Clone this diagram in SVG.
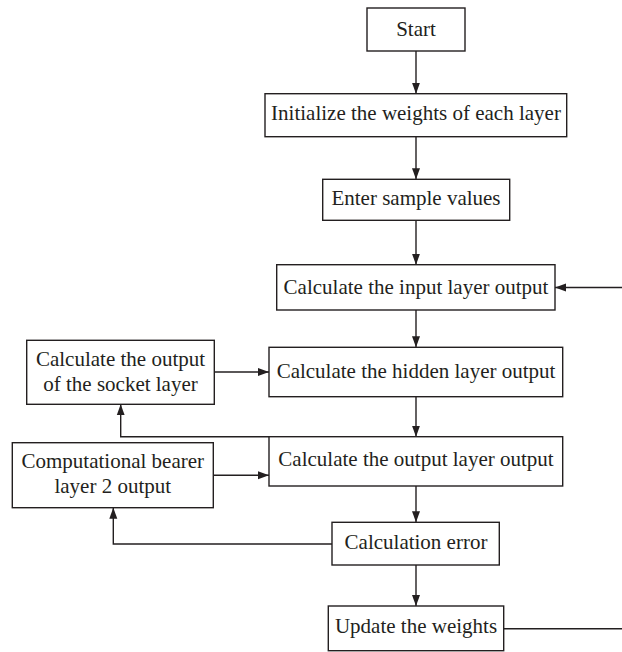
<svg xmlns="http://www.w3.org/2000/svg" width="622" height="652" viewBox="0 0 622 652">
<style>
.box{fill:#fff;stroke:#231f20;stroke-width:1.4}
.t{font-family:"Liberation Serif","Times New Roman",serif;font-size:21px;fill:#231f20;text-anchor:middle}
.c{fill:none;stroke:#231f20;stroke-width:1.4}
</style>
<defs>
<marker id="ah" markerUnits="userSpaceOnUse" markerWidth="12" markerHeight="10" refX="11" refY="5" orient="auto">
<path d="M0,1 L11,5 L0,9 Z" fill="#231f20"/>
</marker>
</defs>
<rect width="622" height="652" fill="#fff"/>
<g id="connectors">
<line class="c" x1="416" y1="51" x2="416" y2="93.7" marker-end="url(#ah)"/>
<line class="c" x1="416" y1="136.7" x2="416" y2="179.3" marker-end="url(#ah)"/>
<line class="c" x1="416" y1="220.3" x2="416" y2="264.7" marker-end="url(#ah)"/>
<line class="c" x1="416" y1="310" x2="416" y2="347.3" marker-end="url(#ah)"/>
<line class="c" x1="416" y1="396.7" x2="416" y2="436.7" marker-end="url(#ah)"/>
<line class="c" x1="416" y1="486" x2="416" y2="522.3" marker-end="url(#ah)"/>
<line class="c" x1="416" y1="565" x2="416" y2="606" marker-end="url(#ah)"/>
<line class="c" x1="503.7" y1="628.7" x2="622" y2="628.7"/>
<line class="c" x1="622" y1="287.5" x2="555" y2="287.5" marker-end="url(#ah)"/>
<line class="c" x1="214.3" y1="372" x2="269" y2="372" marker-end="url(#ah)"/>
<path class="c" d="M416,436.7 H120.7 V404.3" marker-end="url(#ah)"/>
<line class="c" x1="213.3" y1="475.3" x2="269" y2="475.3" marker-end="url(#ah)"/>
<path class="c" d="M332,544 H113.3 V507.7" marker-end="url(#ah)"/>
</g>
<g id="start">
<rect class="box" x="367" y="8" width="98" height="43"/>
<text class="t" x="416" y="35.5">Start</text>
</g>
<g id="init">
<rect class="box" x="265" y="93.7" width="301.7" height="43"/>
<text class="t" x="416" y="120">Initialize the weights of each layer</text>
</g>
<g id="enter">
<rect class="box" x="322.7" y="179.3" width="187" height="41"/>
<text class="t" x="416" y="204.7">Enter sample values</text>
</g>
<g id="input">
<rect class="box" x="276.7" y="264.7" width="278.3" height="45.3"/>
<text class="t" x="416" y="293.5">Calculate the input layer output</text>
</g>
<g id="hidden">
<rect class="box" x="269" y="347.3" width="293.7" height="49.4"/>
<text class="t" x="416" y="377.7">Calculate the hidden layer output</text>
</g>
<g id="socket">
<rect class="box" x="26.7" y="340.3" width="187.6" height="64"/>
<text class="t" x="120.5" y="365.5">Calculate the output</text>
<text class="t" x="120.5" y="390.5">of the socket layer</text>
</g>
<g id="output">
<rect class="box" x="269" y="436.7" width="293.7" height="49.3"/>
<text class="t" x="416" y="466">Calculate the output layer output</text>
</g>
<g id="bearer">
<rect class="box" x="12.3" y="442.7" width="201" height="65"/>
<text class="t" x="112.8" y="468.3">Computational bearer</text>
<text class="t" x="112.8" y="492.7">layer 2 output</text>
</g>
<g id="error">
<rect class="box" x="332" y="522.3" width="167.3" height="42.7"/>
<text class="t" x="416" y="549">Calculation error</text>
</g>
<g id="update">
<rect class="box" x="328.3" y="606" width="175.4" height="44.7"/>
<text class="t" x="416" y="633">Update the weights</text>
</g>
</svg>
